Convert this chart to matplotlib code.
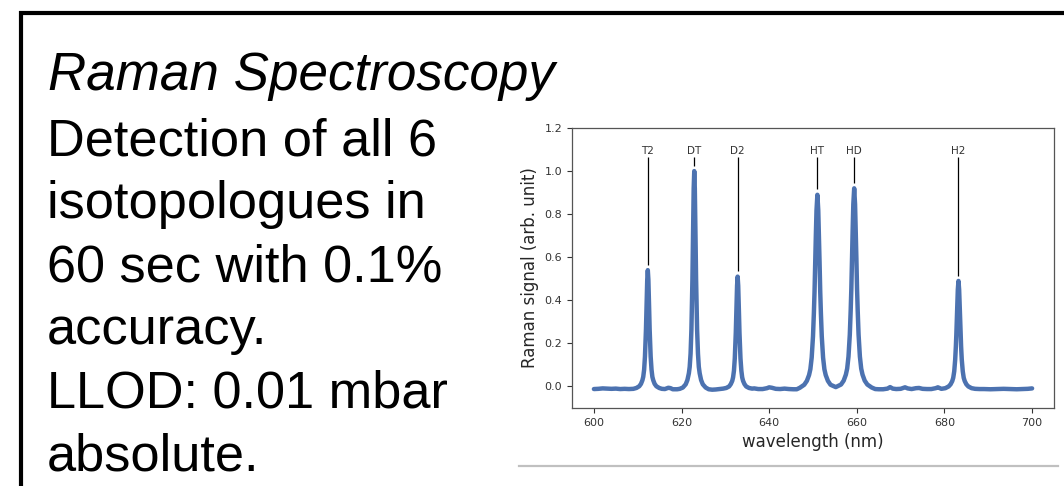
import matplotlib
matplotlib.use("Agg")
import matplotlib.pyplot as plt
from matplotlib.lines import Line2D

W, H = 1064, 486

# ---------------- data ----------------
wavelength = [
    600.0, 601.0, 602.0, 603.0, 604.0, 605.0, 606.0, 607.0, 608.0, 609.0,
    # T2
    609.7, 610.35, 610.74, 611.07, 611.26, 611.46, 611.65, 611.78, 611.88, 611.98, 612.07, 612.17, 612.3,
    612.43, 612.53, 612.62, 612.72, 612.82, 612.95, 613.15, 613.34, 613.54, 613.86, 614.25, 614.9,
    615.5, 616.2, 617.0, 617.5, 618.0, 619.0, 619.6,
    # DT
    620.3, 620.95, 621.34, 621.67, 621.86, 622.06, 622.25, 622.38, 622.48, 622.58, 622.67, 622.77, 622.9,
    623.03, 623.13, 623.22, 623.32, 623.42, 623.55, 623.75, 623.94, 624.14, 624.46, 624.85, 625.5,
    626.2, 627.0, 627.8, 628.6, 629.5,
    # D2
    630.2, 630.85, 631.24, 631.57, 631.76, 631.96, 632.15, 632.28, 632.38, 632.48, 632.57, 632.67, 632.8,
    632.93, 633.03, 633.12, 633.22, 633.32, 633.45, 633.65, 633.84, 634.04, 634.36, 634.75, 635.4,
    636.1, 636.6, 637.5, 638.5, 639.5, 640.0, 640.6, 641.5, 642.5, 643.5, 644.5, 645.5, 646.3,
    # HT
    647.0, 648.0, 648.6, 649.1, 649.4, 649.7, 650.0, 650.2, 650.35, 650.5, 650.65, 650.8, 651.0,
    651.2, 651.35, 651.5, 651.65, 651.8, 652.0, 652.3, 652.6, 652.9, 653.4, 654.0,
    655.2,
    # HD
    656.4, 657.0, 657.5, 657.8, 658.1, 658.4, 658.6, 658.75, 658.9, 659.05, 659.2, 659.4,
    659.6, 659.75, 659.9, 660.05, 660.2, 660.4, 660.7, 661.0, 661.3, 661.8, 662.4, 663.4,
    664.2, 665.0, 666.0, 667.0, 667.6, 668.2, 669.0, 670.0, 671.0, 671.6, 672.5, 673.5, 674.2, 675.0,
    676.0, 677.0, 678.0, 678.5, 679.3,
    # H2
    680.2, 680.95, 681.4, 681.78, 682.0, 682.23, 682.45, 682.6, 682.71, 682.83, 682.94, 683.05, 683.2,
    683.35, 683.46, 683.57, 683.69, 683.8, 683.95, 684.18, 684.4, 684.63, 685.0, 685.45, 686.2,
    687.0, 688.0, 689.0, 690.5, 692.0, 693.5, 695.0, 696.5, 698.0, 699.0, 700.0,
]
signal = [
    -0.012, -0.011, -0.009, -0.010, -0.011, -0.010, -0.012, -0.011, -0.012, -0.011,
    # T2
    -0.007, 0.001, 0.012, 0.029, 0.045, 0.078, 0.139, 0.205, 0.265, 0.348, 0.425, 0.496, 0.540,
    0.496, 0.425, 0.348, 0.265, 0.205, 0.139, 0.078, 0.045, 0.029, 0.012, 0.001, -0.007,
    -0.011, -0.012, -0.006, -0.008, -0.013, -0.013, -0.011,
    # DT
    -0.005, 0.010, 0.030, 0.061, 0.091, 0.152, 0.263, 0.384, 0.495, 0.647, 0.788, 0.919, 1.000,
    0.919, 0.788, 0.647, 0.495, 0.384, 0.263, 0.152, 0.091, 0.061, 0.030, 0.010, -0.005,
    -0.013, -0.015, -0.014, -0.012, -0.010,
    # D2
    -0.007, 0.000, 0.011, 0.026, 0.042, 0.073, 0.130, 0.193, 0.250, 0.328, 0.401, 0.468, 0.510,
    0.468, 0.401, 0.328, 0.250, 0.193, 0.130, 0.073, 0.042, 0.026, 0.011, 0.000, -0.007,
    -0.010, -0.009, -0.012, -0.012, -0.008, -0.004, -0.006, -0.011, -0.012, -0.010, -0.012, -0.013, -0.013,
    # HT
    -0.006, 0.008, 0.026, 0.053, 0.080, 0.134, 0.233, 0.341, 0.440, 0.575, 0.701, 0.818, 0.890,
    0.818, 0.701, 0.575, 0.440, 0.341, 0.233, 0.134, 0.080, 0.053, 0.026, 0.008,
    -0.003,
    # HD
    0.009, 0.027, 0.055, 0.083, 0.139, 0.241, 0.353, 0.455, 0.595, 0.725, 0.846, 0.920,
    0.846, 0.725, 0.595, 0.455, 0.353, 0.241, 0.139, 0.083, 0.055, 0.027, 0.009, -0.005,
    -0.012, -0.013, -0.013, -0.010, -0.003, -0.010, -0.012, -0.011, -0.004, -0.009, -0.012, -0.008, -0.007, -0.011,
    -0.012, -0.012, -0.008, -0.004, -0.011,
    # H2
    -0.008, 0.000, 0.010, 0.025, 0.040, 0.070, 0.125, 0.185, 0.240, 0.315, 0.385, 0.450, 0.490,
    0.450, 0.385, 0.315, 0.240, 0.185, 0.125, 0.070, 0.040, 0.025, 0.010, 0.000, -0.008,
    -0.011, -0.012, -0.012, -0.013, -0.012, -0.011, -0.012, -0.013, -0.012, -0.011, -0.009,
]

peak_labels = ["T2", "DT", "D2", "HT", "HD", "H2"]
peak_positions = [612.3, 622.9, 632.8, 651.0, 659.4, 683.2]
peak_heights = [0.54, 1.00, 0.51, 0.89, 0.92, 0.49]

xticks = [600, 620, 640, 660, 680, 700]
yticks = [0.0, 0.2, 0.4, 0.6, 0.8, 1.0, 1.2]

slide_title = "Raman Spectroscopy"
slide_lines = [
    "Detection of all 6",
    "isotopologues in",
    "60 sec with 0.1%",
    "accuracy.",
    "LLOD: 0.01 mbar",
    "absolute.",
]

# ---------------- figure ----------------
fig = plt.figure(figsize=(W / 100, H / 100), dpi=100)
fig.patch.set_facecolor("white")

# slide border (top and left)
fig.add_artist(Line2D([20.5 / W, 20.5 / W], [0, 1 - 11 / H], color="black", lw=3.0,
                      solid_capstyle="butt"))
fig.add_artist(Line2D([18.5 / W, 1], [1 - 13 / H, 1 - 13 / H], color="black", lw=3.0,
                      solid_capstyle="butt"))
# grey rule under chart
fig.add_artist(Line2D([519 / W, 1058 / W], [1 - 466 / H, 1 - 466 / H], color="#c0c0c0", lw=1.6))

# slide text
fig.text(48 / W, 1 - 90 / H, slide_title, fontsize=38.2, family="Liberation Sans",
         style="italic", va="baseline", ha="left", color="black")
baselines = [155, 218, 281, 344, 407, 470]
for s, yb in zip(slide_lines, baselines):
    fig.text(47 / W, 1 - yb / H, s, fontsize=37.7, family="Liberation Sans",
             va="baseline", ha="left", color="black")

# chart
ax_left, ax_right, ax_top, ax_bottom = 572, 1054, 128, 408
ax = fig.add_axes([ax_left / W, 1 - ax_bottom / H, (ax_right - ax_left) / W, (ax_bottom - ax_top) / H])

ax.plot(wavelength, signal, color="#4c72b0", lw=3.2, solid_joinstyle="round",
        solid_capstyle="round")

for lab, xp, hp in zip(peak_labels, peak_positions, peak_heights):
    ax.vlines(xp, hp + 0.025, 1.065, color="black", lw=0.9)
    ax.text(xp, 1.08, lab, ha="center", va="baseline", fontsize=7.5, color="#333333")

ax.set_xlim(595, 705)
ax.set_ylim(-0.1, 1.2)
ax.set_xticks(xticks)
ax.set_yticks(yticks)
ax.set_xticklabels([str(v) for v in xticks])
ax.set_yticklabels([f"{v:.1f}" for v in yticks])
ax.tick_params(labelsize=8, colors="#333333", length=3.5, width=0.8)
for sp in ax.spines.values():
    sp.set_color("#555555")
    sp.set_linewidth(0.9)
ax.set_xlabel("wavelength (nm)", fontsize=12, color="#262626")
ax.set_ylabel("Raman signal (arb. unit)", fontsize=12, color="#262626")

fig.savefig("out.png", dpi=100, facecolor="white")
